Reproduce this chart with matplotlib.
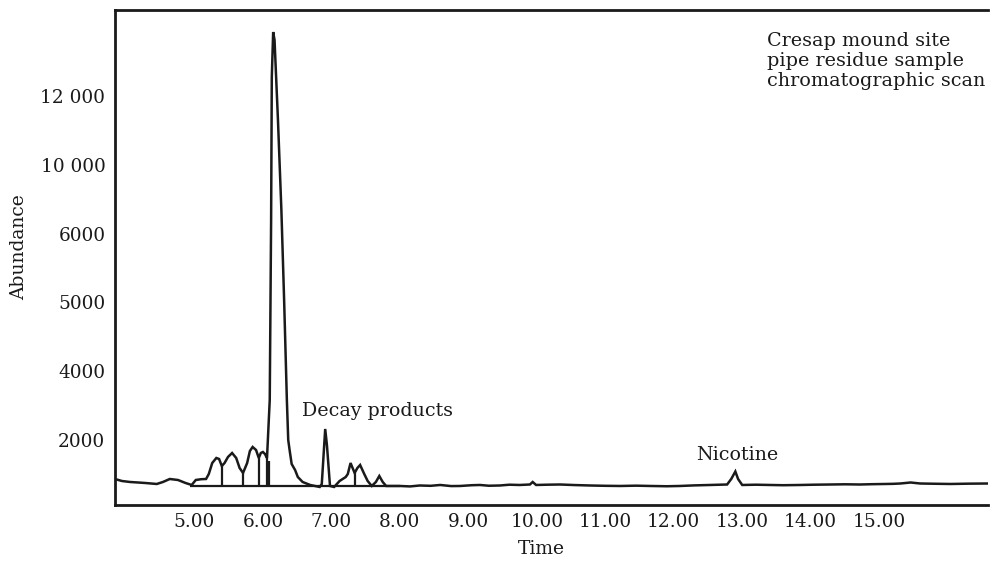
import numpy as np
import matplotlib
matplotlib.use("Agg")
import matplotlib.pyplot as plt

# ---- data ----
time = [3.84, 3.94, 4.06, 4.17, 4.28, 4.45, 4.54, 4.64, 4.76, 4.87, 4.96, 5.02, 5.10, 5.17,
        5.21, 5.26, 5.32, 5.36, 5.40, 5.44, 5.49, 5.55, 5.61, 5.66, 5.71, 5.77, 5.81, 5.85,
        5.90, 5.94, 5.97, 6.00, 6.03, 6.06,
        6.10, 6.12, 6.13, 6.15, 6.17, 6.22, 6.27, 6.31, 6.35, 6.37, 6.39, 6.42, 6.47, 6.51,
        6.58, 6.69, 6.83,
        6.86, 6.91, 6.935, 6.98, 7.04, 7.12, 7.21, 7.24, 7.28, 7.31, 7.34, 7.38, 7.42, 7.48,
        7.53, 7.59, 7.65, 7.70, 7.75, 7.80,
        8.00, 8.15, 8.29, 8.45, 8.59, 8.75, 8.88, 9.05, 9.17, 9.30, 9.46, 9.60, 9.75, 9.90,
        9.94, 9.99, 10.15, 10.34, 10.55, 10.78, 11.00, 11.22, 11.45, 11.66, 11.90, 12.09,
        12.30, 12.53, 12.78, 12.84, 12.90, 12.94, 13.00, 13.20, 13.41, 13.60, 13.85, 14.05,
        14.29, 14.50, 14.72, 14.90, 15.09, 15.20, 15.31, 15.46, 15.60, 15.80, 16.04, 16.30,
        16.59]
abundance = [866, 808, 779, 765, 750, 721, 779, 866, 837, 750, 692, 837, 860, 866,
             1012, 1331, 1477, 1448, 1244, 1331, 1506, 1622, 1477, 1186, 1041, 1331, 1680, 1797,
             1709, 1477, 1622, 1651, 1593, 1477,
             3163, 6791, 12552, 13860, 13628, 11302, 7372, 5035, 3163, 2000, 1709, 1302, 1128, 924,
             779, 692, 634,
             721, 2320, 1855, 663, 634, 808, 924, 1012, 1331, 1186, 1041, 1186, 1273, 1012,
             808, 663, 779, 953, 779, 663,
             663, 650, 677, 668, 692, 660, 663, 685, 692, 670, 677, 700, 692, 706,
             779, 692, 700, 706, 690, 677, 668, 663, 672, 663, 655, 663,
             680, 692, 706, 866, 1084, 866, 692, 700, 692, 685, 692, 700,
             706, 712, 706, 715, 721, 725, 735, 764, 735, 728, 721, 730,
             735]

drop_times = [5.40, 5.71, 5.94, 6.06, 6.09, 7.34]
drop_tops = [1244, 1041, 1477, 1477, 1400, 1041]
integration_base = 663
integration_span = [4.93, 8.00]

y_ticks = [2000, 4000, 5000, 6000, 10000, 12000]
y_ticklabels = ["2000", "4000", "5000", "6000", "10 000", "12 000"]
x_ticks = [5, 6, 7, 8, 9, 10, 11, 12, 13, 14, 15]
x_ticklabels = ["5.00", "6.00", "7.00", "8.00", "9.00", "10.00", "11.00",
                "12.00", "13.00", "14.00", "15.00"]

# piecewise axis of the original print: labelled ticks are evenly spaced
scale_vals = [-1e6, 0, 2000, 4000, 5000, 6000, 10000, 12000, 1e6]
scale_pos = [-500, 0, 1, 2, 3, 4, 5, 6, 6 + (1e6 - 12000) / 2000]


def fwd(v):
    return np.interp(v, scale_vals, scale_pos)


def inv(p):
    return np.interp(p, scale_pos, scale_vals)


plt.rcParams['font.family'] = ['DejaVu Serif']
INK = '#1a1a1a'

fig = plt.figure(figsize=(9.91, 5.64), dpi=100)
ax = fig.add_axes([115 / 991, 1 - 505 / 564, 873 / 991, 495 / 564])
ax.set_yscale('function', functions=(fwd, inv))

ax.plot(time, abundance, color=INK, lw=1.8, solid_joinstyle='miter')
ax.vlines(drop_times, integration_base, drop_tops, color=INK, lw=1.6)
ax.hlines(integration_base, integration_span[0], integration_span[1], color=INK, lw=1.6)

ax.set_xlim(3.84, 16.59)
ax.set_ylim(110, 14500)

ax.set_yticks(y_ticks)
ax.set_yticklabels(y_ticklabels)
ax.set_xticks(x_ticks)
ax.set_xticklabels(x_ticklabels)
ax.yaxis.set_minor_locator(matplotlib.ticker.NullLocator())
ax.xaxis.set_minor_locator(matplotlib.ticker.NullLocator())
ax.tick_params(axis='both', length=0, labelsize=13.3, colors=INK)
ax.tick_params(axis='y', pad=7)
ax.tick_params(axis='x', pad=6)

for s in ['left', 'bottom', 'top']:
    ax.spines[s].set_linewidth(2.0)
    ax.spines[s].set_color(INK)
ax.spines['right'].set_visible(False)

ax.set_xlabel("Time", fontsize=13.5, color=INK)
ax.xaxis.set_label_coords(0.488, -0.071)
ax.set_ylabel("Abundance", fontsize=13.5, color=INK)
ax.yaxis.set_label_coords(-0.10, 0.521)

ax.text(0.214, 0.190, "Decay products", transform=ax.transAxes, fontsize=13.7,
        va='center', ha='left', color=INK)
ax.text(0.6655, 0.101, "Nicotine", transform=ax.transAxes, fontsize=13.7,
        va='center', ha='left', color=INK)
ax.text(0.747, 0.955, "Cresap mound site\npipe residue sample\nchromatographic scan",
        transform=ax.transAxes, fontsize=13.8, va='top', ha='left', linespacing=1.12,
        color=INK)

fig.savefig("out.png", dpi=100)
